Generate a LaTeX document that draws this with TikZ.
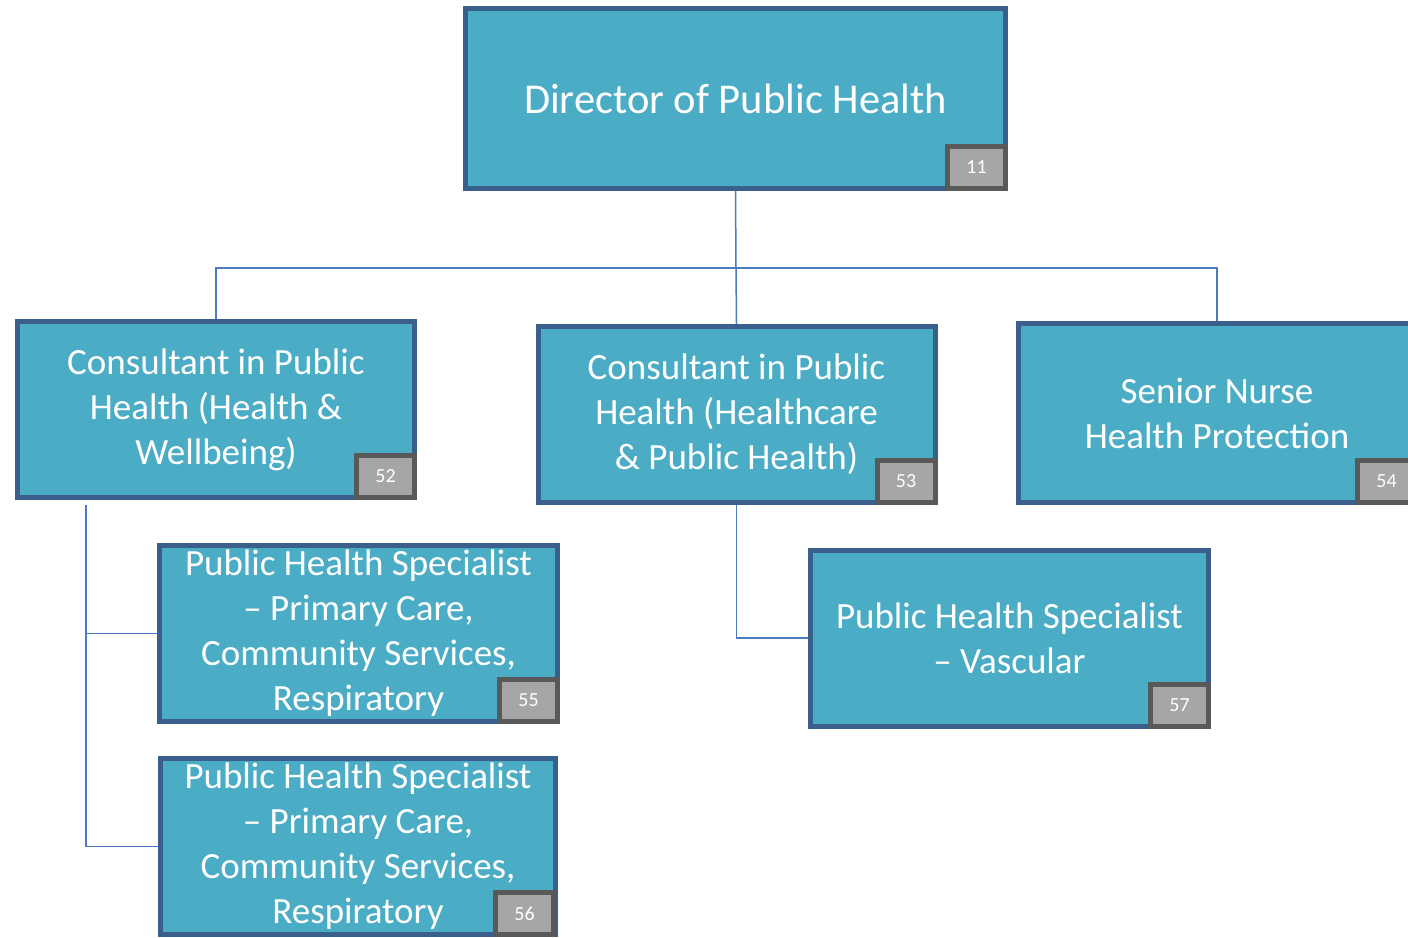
\documentclass[tikz,border=0pt]{standalone}
\usepackage{fontspec}
\setmainfont{Carlito}
\usepackage{tikz}
\usetikzlibrary{calc}
\definecolor{postFill}{HTML}{4BACC6}
\definecolor{postBorder}{HTML}{3A5F8B}
\definecolor{badgeFill}{HTML}{A6A6A6}
\definecolor{badgeBorder}{HTML}{595959}
\definecolor{linkBlue}{HTML}{4A7BC4}
\newcommand{\chartUnit}{1pt}
\newcommand{\postFont}{\fontsize{37}{45}\selectfont}

\begin{document}
\begin{tikzpicture}[x=\chartUnit, y=-\chartUnit]
  \tikzset{
    post/.style={draw=postBorder, line width=5, fill=postFill, text=white,
      align=center, inner sep=0, minimum width=397, minimum height=176, font=\postFont},
    badge/.style={draw=badgeBorder, line width=5, fill=badgeFill, text=white,
      inner sep=0, minimum width=58, minimum height=42, anchor=south east,
      font=\fontsize{20}{24}\selectfont},
    link/.style={draw=linkBlue, line width=1.5}
  }
  \useasboundingbox (0,0) rectangle (1408,937);
  % posts
  \node[post, minimum width=540, minimum height=180, font=\fontsize{42.5}{51}\selectfont]
    (dph) at (735.5,98.5) {Director of Public Health};
  \node[post] (hw) at (216,409.5) {Consultant in Public\\Health (Health \&\\Wellbeing)};
  \node[post] (hc) at (736.5,414.5) {Consultant in Public\\Health (Healthcare\\\& Public Health)};
  \node[post, minimum height=179] (nurse) at (1217,413) {Senior Nurse\\Health Protection};
  \node[post, minimum width=398] (primA) at (358.5,633.5)
    {Public Health Specialist\\– Primary Care,\\Community Services,\\Respiratory};
  \node[post, minimum width=395] (primB) at (358,846.5)
    {Public Health Specialist\\– Primary Care,\\Community Services,\\Respiratory};
  \node[post, minimum width=398] (vasc) at (1009.5,638) {Public Health Specialist\\– Vascular};
  % badges
  \node[badge] (b11) at (dph.south east) {11};
  \node[badge] (b52) at (hw.south east) {52};
  \node[badge] (b53) at (hc.south east) {53};
  \node[badge] (b54) at (nurse.south east) {54};
  \node[badge] (b55) at (primA.south east) {55};
  \node[badge] (b56) at ($(primB.south east)+(-2,0)$) {56};
  \node[badge] (b57) at (vasc.south east) {57};
  % links
  \coordinate (bus) at (736,268);
  \coordinate (trunk) at (86,505);
  \draw[link] (dph.south) -- (bus);
  \draw[link] (hw.north) |- (bus) -| (nurse.north);
  \draw[link] (bus) -- (hc.north);
  \draw[link] (trunk) |- (primA.west);
  \draw[link] (trunk) |- (primB.west);
  \draw[link] (hc.south) |- (vasc.west);
\end{tikzpicture}
\end{document}
